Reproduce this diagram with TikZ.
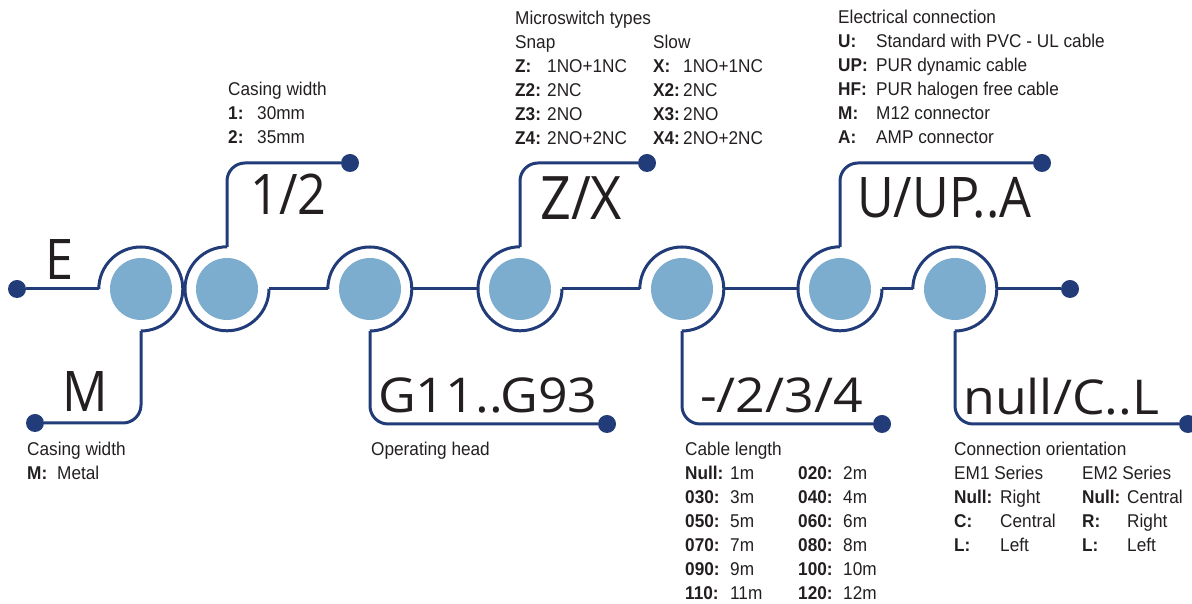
\documentclass[tikz,border=0pt]{standalone}
\usepackage{fontspec}
\setmainfont{Liberation Sans}
\newfontfamily\bigfont[FakeStretch=0.9]{Open Sans}
\newfontfamily\widefont[FakeStretch=1.08]{Open Sans}
\newfontfamily\notefont[FakeStretch=0.93]{Liberation Sans}
\usetikzlibrary{positioning}
\definecolor{wire}{RGB}{33,60,120}
\definecolor{disc}{RGB}{124,172,206}
\definecolor{ink}{RGB}{35,31,32}

\begin{document}
\begin{tikzpicture}[x=1pt,y=1pt,
  wire/.style={draw=wire,line width=3pt},
  leg/.style={wire,rounded corners=18pt},
  ring/.style={circle,minimum size=84pt,inner sep=0pt},
  pin/.style={circle,fill=wire,minimum size=18pt,inner sep=0pt},
  big/.style={anchor=base west,inner sep=0pt,text=ink,font=\bigfont\fontsize{56}{56}\selectfont},
  mid/.style={big,font=\widefont\fontsize{48}{48}\selectfont},
  note/.style={anchor=base west,inner sep=0pt,text=ink,font=\notefont\fontsize{18.5}{24}\selectfont}]
\useasboundingbox (0,0) rectangle (1192,604);
% code positions on the chain
\foreach \n/\x in {1/141,2/227,3/370,4/520,5/682,6/840,7/955}
  \node[ring] (c\n) at (\x,315) {};
\foreach \n in {1,...,7} \fill[disc] (c\n) circle[radius=31pt];
% end points
\node[pin] (pE) at (17,315) {};
\node[pin] (pEnd) at (1070,315) {};
\node[pin] (pM) at (35,181) {};
\node[pin] (pW) at (350,441) {};
\node[pin] (pG) at (607,180) {};
\node[pin] (pZ) at (647,441) {};
\node[pin] (pL) at (882,180) {};
\node[pin] (pU) at (1042,441) {};
\node[pin] (pO) at (1188,180) {};
% rings
\foreach \n in {1,3,5,7} \draw[wire] (c\n.west) arc[start angle=180,end angle=-90,radius=42pt];
\foreach \n in {2,4,6} \draw[wire] (c\n.north) arc[start angle=90,end angle=360,radius=42pt];
% chain
\draw[wire] (pE) -- (c1.west);
\draw[wire] (c2.east) -- (c3.west);
\draw[wire] (c3.east) -- (c4.west);
\draw[wire] (c4.east) -- (c5.west);
\draw[wire] (c5.east) -- (c6.west);
\draw[wire] (c6.east) -- (c7.west);
\draw[wire] (c7.east) -- (pEnd);
% legs
\draw[leg] (c1.south) |- (pM);
\draw[leg] (c2.north) |- (pW);
\draw[leg] (c3.south) |- (pG);
\draw[leg] (c4.north) |- (pZ);
\draw[leg] (c5.south) |- (pL);
\draw[leg] (c6.north) |- (pU);
\draw[leg] (c7.south) |- (pO);
% codes
\node[big] (lE) at (45,324) {E};
\node[big] (lM) at (62,192) {M};
\node[big] (lW) at (250,389) {1/2};
\node[big,font=\bigfont\fontsize{60}{60}\selectfont] (lZ) at (540,384) {Z/X};
\node[big] (lU) at (857,386) {U/UP..A};
\node[mid] (lG) at (378,191) {G11..G93};
\node[mid] (lL) at (700,191) {-/2/3/4};
\node[mid] (lO) at (963,189) {null/C..L};
% notes
\node[note] (nW) at (228,508) {\begin{tabular}[t]{@{}p{29pt}@{}l@{}}
  \multicolumn{2}{@{}l@{}}{Casing width}\\
  \textbf{1:} & 30mm\\
  \textbf{2:} & 35mm
\end{tabular}};
\node[note] (nZ) at (515,579) {\begin{tabular}[t]{@{}p{32pt}@{}p{106pt}@{}p{30pt}@{}l@{}}
  \multicolumn{4}{@{}l@{}}{Microswitch types}\\
  \multicolumn{2}{@{}l@{}}{Snap} & \multicolumn{2}{@{}l@{}}{Slow}\\
  \textbf{Z:} & 1NO+1NC & \textbf{X:} & 1NO+1NC\\
  \textbf{Z2:} & 2NC & \textbf{X2:} & 2NC\\
  \textbf{Z3:} & 2NO & \textbf{X3:} & 2NO\\
  \textbf{Z4:} & 2NO+2NC & \textbf{X4:} & 2NO+2NC
\end{tabular}};
\node[note] (nU) at (838,580) {\begin{tabular}[t]{@{}p{38pt}@{}l@{}}
  \multicolumn{2}{@{}l@{}}{Electrical connection}\\
  \textbf{U:} & Standard with PVC - UL cable\\
  \textbf{UP:} & PUR dynamic cable\\
  \textbf{HF:} & PUR halogen free cable\\
  \textbf{M:} & M12 connector\\
  \textbf{A:} & AMP connector
\end{tabular}};
\node[note] (nM) at (27,148) {\begin{tabular}[t]{@{}p{30pt}@{}l@{}}
  \multicolumn{2}{@{}l@{}}{Casing width}\\
  \textbf{M:} & Metal
\end{tabular}};
\node[note] (nG) at (371,148) {Operating head};
\node[note] (nL) at (685,148) {\begin{tabular}[t]{@{}p{45pt}@{}p{68pt}@{}p{45pt}@{}l@{}}
  \multicolumn{4}{@{}l@{}}{Cable length}\\
  \textbf{Null:} & 1m & \textbf{020:} & 2m\\
  \textbf{030:} & 3m & \textbf{040:} & 4m\\
  \textbf{050:} & 5m & \textbf{060:} & 6m\\
  \textbf{070:} & 7m & \textbf{080:} & 8m\\
  \textbf{090:} & 9m & \textbf{100:} & 10m\\
  \textbf{110:} & 11m & \textbf{120:} & 12m
\end{tabular}};
\node[note] (nO) at (954,148) {\begin{tabular}[t]{@{}p{46pt}@{}p{82pt}@{}p{45pt}@{}l@{}}
  \multicolumn{4}{@{}l@{}}{Connection orientation}\\
  \multicolumn{2}{@{}l@{}}{EM1 Series} & \multicolumn{2}{@{}l@{}}{EM2 Series}\\
  \textbf{Null:} & Right & \textbf{Null:} & Central\\
  \textbf{C:} & Central & \textbf{R:} & Right\\
  \textbf{L:} & Left & \textbf{L:} & Left
\end{tabular}};
\end{tikzpicture}
\end{document}
